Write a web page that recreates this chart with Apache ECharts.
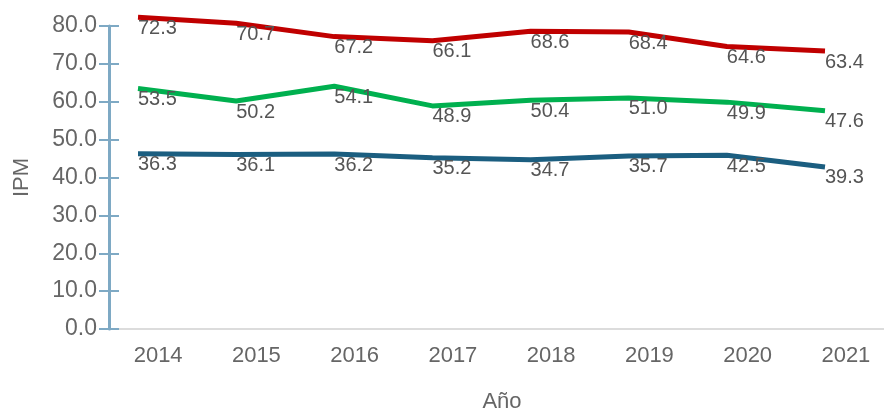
<!DOCTYPE html>
<html>
<head>
<meta charset="utf-8">
<script src="https://cdn.jsdelivr.net/npm/echarts@6/dist/echarts.min.js"></script>
<style>
html,body{margin:0;padding:0;background:#fff;}
#chart{width:884px;height:411px;}
</style>
</head>
<body>
<div id="chart"></div>
<script>
const years = ['2014','2015','2016','2017','2018','2019','2020','2021'];
const redValues   = [82.3, 80.7, 77.2, 76.1, 78.6, 78.4, 74.6, 73.4];
const greenValues = [63.5, 60.2, 64.1, 58.9, 60.4, 61.0, 59.9, 57.6];
const blueValues  = [46.3, 46.1, 46.2, 45.2, 44.7, 45.7, 45.9, 42.8];
const redLabels   = ['72.3','70.7','67.2','66.1','68.6','68.4','64.6','63.4'];
const greenLabels = ['53.5','50.2','54.1','48.9','50.4','51.0','49.9','47.6'];
const blueLabels  = ['36.3','36.1','36.2','35.2','34.7','35.7','42.5','39.3'];
const yTicks = {min: 0, max: 80, interval: 10};

const FONT = '"Liberation Sans", Arial, sans-serif';
const axisBlue = '#7ea9c4';

function lineSeries(name, values, labels, color) {
  return {
    name: name,
    type: 'line',
    xAxisIndex: 1,
    yAxisIndex: 2,
    data: values,
    clip: false,
    symbol: 'circle',
    symbolSize: 2,
    showSymbol: true,
    itemStyle: {color: 'rgba(0,0,0,0)'},
    lineStyle: {color: color, width: 5},
    animation: false,
    label: {
      show: true,
      position: [1, 2],
      align: 'left',
      verticalAlign: 'top',
      color: '#555',
      fontFamily: FONT,
      fontSize: 20,
      formatter: p => labels[p.dataIndex]
    },
    z: 5
  };
}

const chart = echarts.init(document.getElementById('chart'));
chart.setOption({
  animation: false,
  grid: [
    {left: 109, top: 26, width: 786, height: 303, containLabel: false, outerBoundsMode: 'none'},
    {left: 138, top: 26, width: 687, height: 303, containLabel: false, outerBoundsMode: 'none'}
  ],
  xAxis: [
    {
      type: 'category', gridIndex: 0, data: years, boundaryGap: true,
      axisLine: {show: true, lineStyle: {color: '#dcdcdc', width: 2}},
      axisTick: {show: false},
      axisLabel: {color: '#666', fontFamily: FONT, fontSize: 22, margin: 16},
      name: 'Año', nameLocation: 'middle', nameGap: 62,
      nameTextStyle: {color: '#666', fontFamily: FONT, fontSize: 22}
    },
    {
      type: 'category', gridIndex: 1, data: years, boundaryGap: false, show: false
    }
  ],
  yAxis: [
    {
      type: 'value', gridIndex: 0, position: 'left',
      min: yTicks.min, max: yTicks.max, interval: yTicks.interval,
      splitLine: {show: false},
      axisLine: {show: true, lineStyle: {color: axisBlue, width: 3}},
      axisTick: {show: true, length: 10, lineStyle: {color: axisBlue, width: 2}},
      axisLabel: {color: '#666', fontFamily: FONT, fontSize: 23, margin: 12,
        formatter: v => v.toFixed(1)},
      name: 'IPM', nameLocation: 'middle', nameGap: 76,
      nameTextStyle: {color: '#666', fontFamily: FONT, fontSize: 22}
    },
    {
      type: 'value', gridIndex: 0, position: 'left', offset: 0,
      min: yTicks.min, max: yTicks.max, interval: yTicks.interval,
      splitLine: {show: false},
      axisLine: {show: false},
      axisTick: {show: true, inside: true, length: 10, lineStyle: {color: axisBlue, width: 2}},
      axisLabel: {show: false}
    },
    {
      type: 'value', gridIndex: 1, show: false,
      min: yTicks.min, max: yTicks.max, interval: yTicks.interval
    }
  ],
  series: [
    lineSeries('Rojo', redValues, redLabels, '#c00000'),
    lineSeries('Verde', greenValues, greenLabels, '#00b04f'),
    lineSeries('Azul', blueValues, blueLabels, '#1b5e80')
  ]
});
</script>
</body>
</html>
